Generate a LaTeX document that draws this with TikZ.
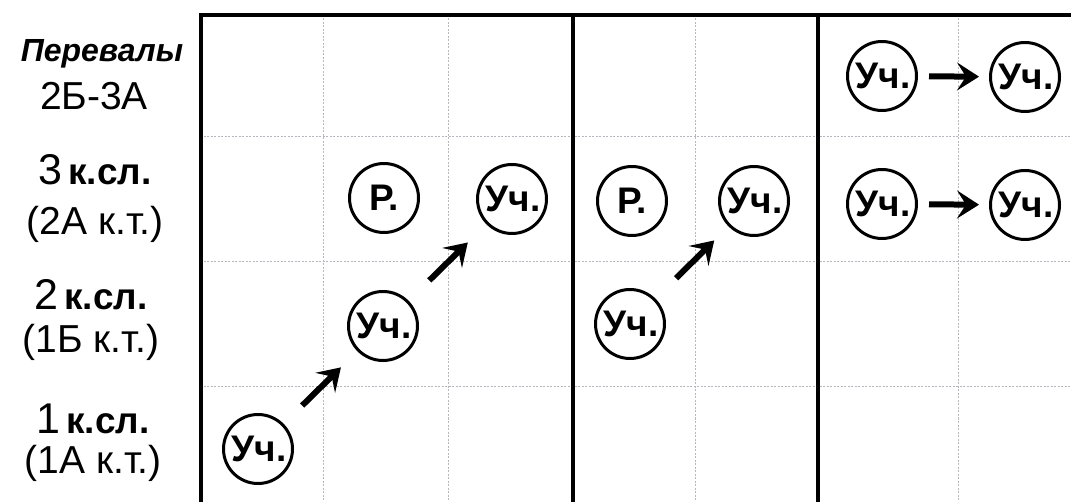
\documentclass[tikz,border=0pt]{standalone}
\usepackage{fontspec}
\setmainfont{Liberation Sans}
\usetikzlibrary{arrows.meta}
\definecolor{gridc}{RGB}{185,182,192}
\begin{document}
\begin{tikzpicture}[x=1pt,y=-1pt,
  gridline/.style={draw=gridc, line width=1pt, dash pattern=on 2pt off 1.5pt},
  thickline/.style={line width=4pt},
  circ/.style={circle, draw, line width=3pt, minimum size=69pt, inner sep=0pt,
    font=\bfseries\fontsize{37}{42}\selectfont},
  arr/.style={line width=6pt, -{Stealth[length=22pt,width=28pt,inset=9pt]}},
  lbl/.style={inner sep=0pt, anchor=base},
  big/.style={font=\fontsize{39}{44}\selectfont}]
\useasboundingbox (0,0) rectangle (1071,502);
% grid
\foreach \gx in {323,448,695,958} \draw[gridline] (\gx,15) -- (\gx,502);
\foreach \gy in {137,262,387} \draw[gridline] (200,\gy) -- (1071,\gy);
% frame
\draw[thickline] (201,502) -- (201,15) -- (1071,15);
\draw[thickline] (573,15) -- (573,502);
\draw[thickline] (818,15) -- (818,502);
% left labels
\node[lbl, font=\bfseries\itshape\fontsize{32}{38}\selectfont] (pas) at (102,62) {Перевалы};
\node[lbl, big] (pasc) at (94,110) {2Б-3А};
\node[lbl] (k3) at (95,185) {{\fontsize{43}{48}\selectfont 3}\hspace{6pt}{\bfseries\fontsize{37}{42}\selectfont к.сл.}};
\node[lbl, big] (t3) at (95,235) {(2А к.т.)};
\node[lbl] (k2) at (91,310) {{\fontsize{43}{48}\selectfont 2}\hspace{6pt}{\bfseries\fontsize{37}{42}\selectfont к.сл.}};
\node[lbl, big] (t2) at (91,353) {(1Б к.т.)};
\node[lbl] (k1) at (93,433) {{\fontsize{43}{48}\selectfont 1}\hspace{6pt}{\bfseries\fontsize{37}{42}\selectfont к.сл.}};
\node[lbl, big] (t1) at (93,473) {(1А к.т.)};
% circles
\node[circ] (u1) at (258,449) {\hspace{2pt}Уч.};
\node[circ] (u2) at (383,326) {\hspace{2pt}Уч.};
\node[circ] (r1) at (384,198) {Р.};
\node[circ] (u3) at (512,199) {\hspace{2pt}Уч.};
\node[circ] (u4) at (630,324) {\hspace{2pt}Уч.};
\node[circ] (r2) at (632,201) {Р.};
\node[circ] (u5) at (754,201) {\hspace{2pt}Уч.};
\node[circ] (u6) at (882,76) {\hspace{2pt}Уч.};
\node[circ] (u7) at (1025,77) {\hspace{2pt}Уч.};
\node[circ] (u8) at (882,204) {\hspace{2pt}Уч.};
\node[circ] (u9) at (1025,205) {\hspace{2pt}Уч.};
% arrows
\draw[arr, shorten <=26pt, shorten >=23pt] (u1) -- (u2);
\draw[arr, shorten <=29pt, shorten >=26pt] (u2) -- (u3);
\draw[arr, shorten <=29pt, shorten >=20pt] (u4) -- (u5);
\draw[arr, shorten <=11pt, shorten >=10pt] (u6) -- (u7);
\draw[arr, shorten <=11pt, shorten >=10pt] (u8) -- (u9);
\end{tikzpicture}
\end{document}
